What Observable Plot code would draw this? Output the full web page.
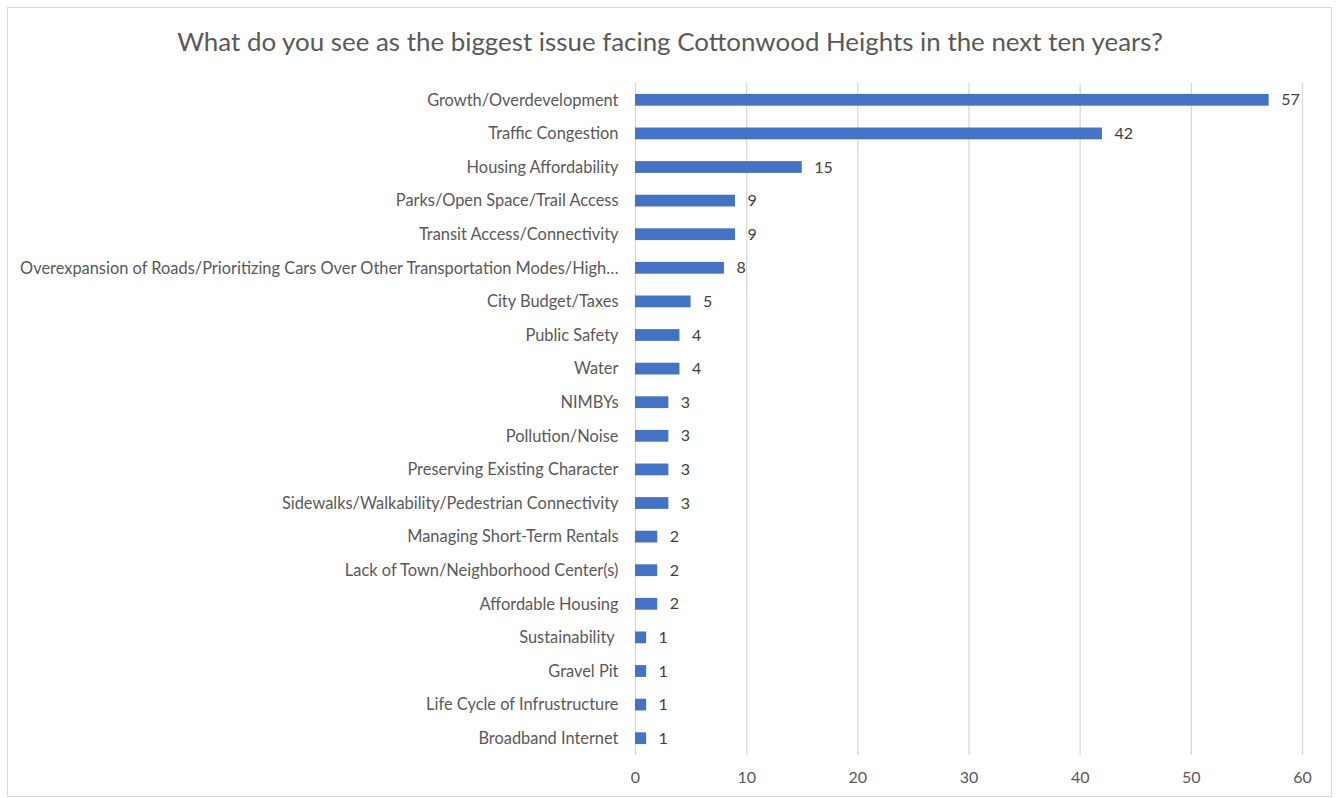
<!DOCTYPE html>
<html>
<head>
<meta charset="utf-8">
<script src="https://cdn.jsdelivr.net/npm/d3@7"></script>
<script src="https://cdn.jsdelivr.net/npm/@observablehq/plot@0.6"></script>
<style>
  html, body { margin: 0; padding: 0; background: #fff; }
  #frame { position: absolute; left: 7px; top: 7px; width: 1325px; height: 790px; border: 1px solid #d9d9d9; box-sizing: border-box; }
  #wrap { position: absolute; left: 0; top: 0; width: 1338px; }
  #title { height: 70px; line-height: 82px; text-align: center; font-family: Lato, sans-serif; font-size: 25.9px; color: #595959; padding-left: 2px; }
  svg { display: block; }
</style>
</head>
<body>
<div id="frame"></div>
<div id="wrap">
  <div id="title">What do you see as the biggest issue facing Cottonwood Heights in the next ten years?</div>
  <div id="chart"></div>
</div>
<script>
const categories = [
  "Growth/Overdevelopment",
  "Traffic Congestion",
  "Housing Affordability",
  "Parks/Open Space/Trail Access",
  "Transit Access/Connectivity",
  "Overexpansion of Roads/Prioritizing Cars Over Other Transportation Modes/High\u2026",
  "City Budget/Taxes",
  "Public Safety",
  "Water",
  "NIMBYs",
  "Pollution/Noise",
  "Preserving Existing Character",
  "Sidewalks/Walkability/Pedestrian Connectivity",
  "Managing Short-Term Rentals",
  "Lack of Town/Neighborhood Center(s)",
  "Affordable Housing",
  "Sustainability\u00a0",
  "Gravel Pit",
  "Life Cycle of Infrustructure",
  "Broadband Internet"
];
const counts = [57, 42, 15, 9, 9, 8, 5, 4, 4, 3, 3, 3, 3, 2, 2, 2, 1, 1, 1, 1];
const xTicks = [0, 10, 20, 30, 40, 50, 60];

const data = categories.map((c, i) => ({category: c, count: counts[i]}));

const chart = Plot.plot({
  width: 1338,
  height: 728,
  marginLeft: 635,
  marginRight: 36,
  marginTop: 13,
  marginBottom: 43,
  style: {fontFamily: "Lato, sans-serif", fontSize: "16.4px", color: "#595959", background: "transparent"},
  x: {domain: [0, 60], ticks: xTicks, label: null},
  y: {domain: categories, paddingInner: 0.65, paddingOuter: 0.325, round: false, label: null},
  marks: [
    Plot.ruleX(xTicks, {stroke: "#d9d9d9", strokeWidth: 1.3}),
    Plot.barX(data, {y: "category", x: "count", fill: "#4472C4"}),
    Plot.text(data, {y: "category", x: "count", text: d => String(d.count), textAnchor: "start", dx: 12, fill: "#404040", fontSize: 16}),
    Plot.axisX({ticks: xTicks, tickSize: 0, tickPadding: 16, fill: "#595959", fontSize: 16, label: null}),
    Plot.axisY({tickSize: 0, tickPadding: 17, fill: "#595959", fontSize: 16.4, label: null, textOverflow: null})
  ]
});
document.getElementById("chart").appendChild(chart);
</script>
</body>
</html>
